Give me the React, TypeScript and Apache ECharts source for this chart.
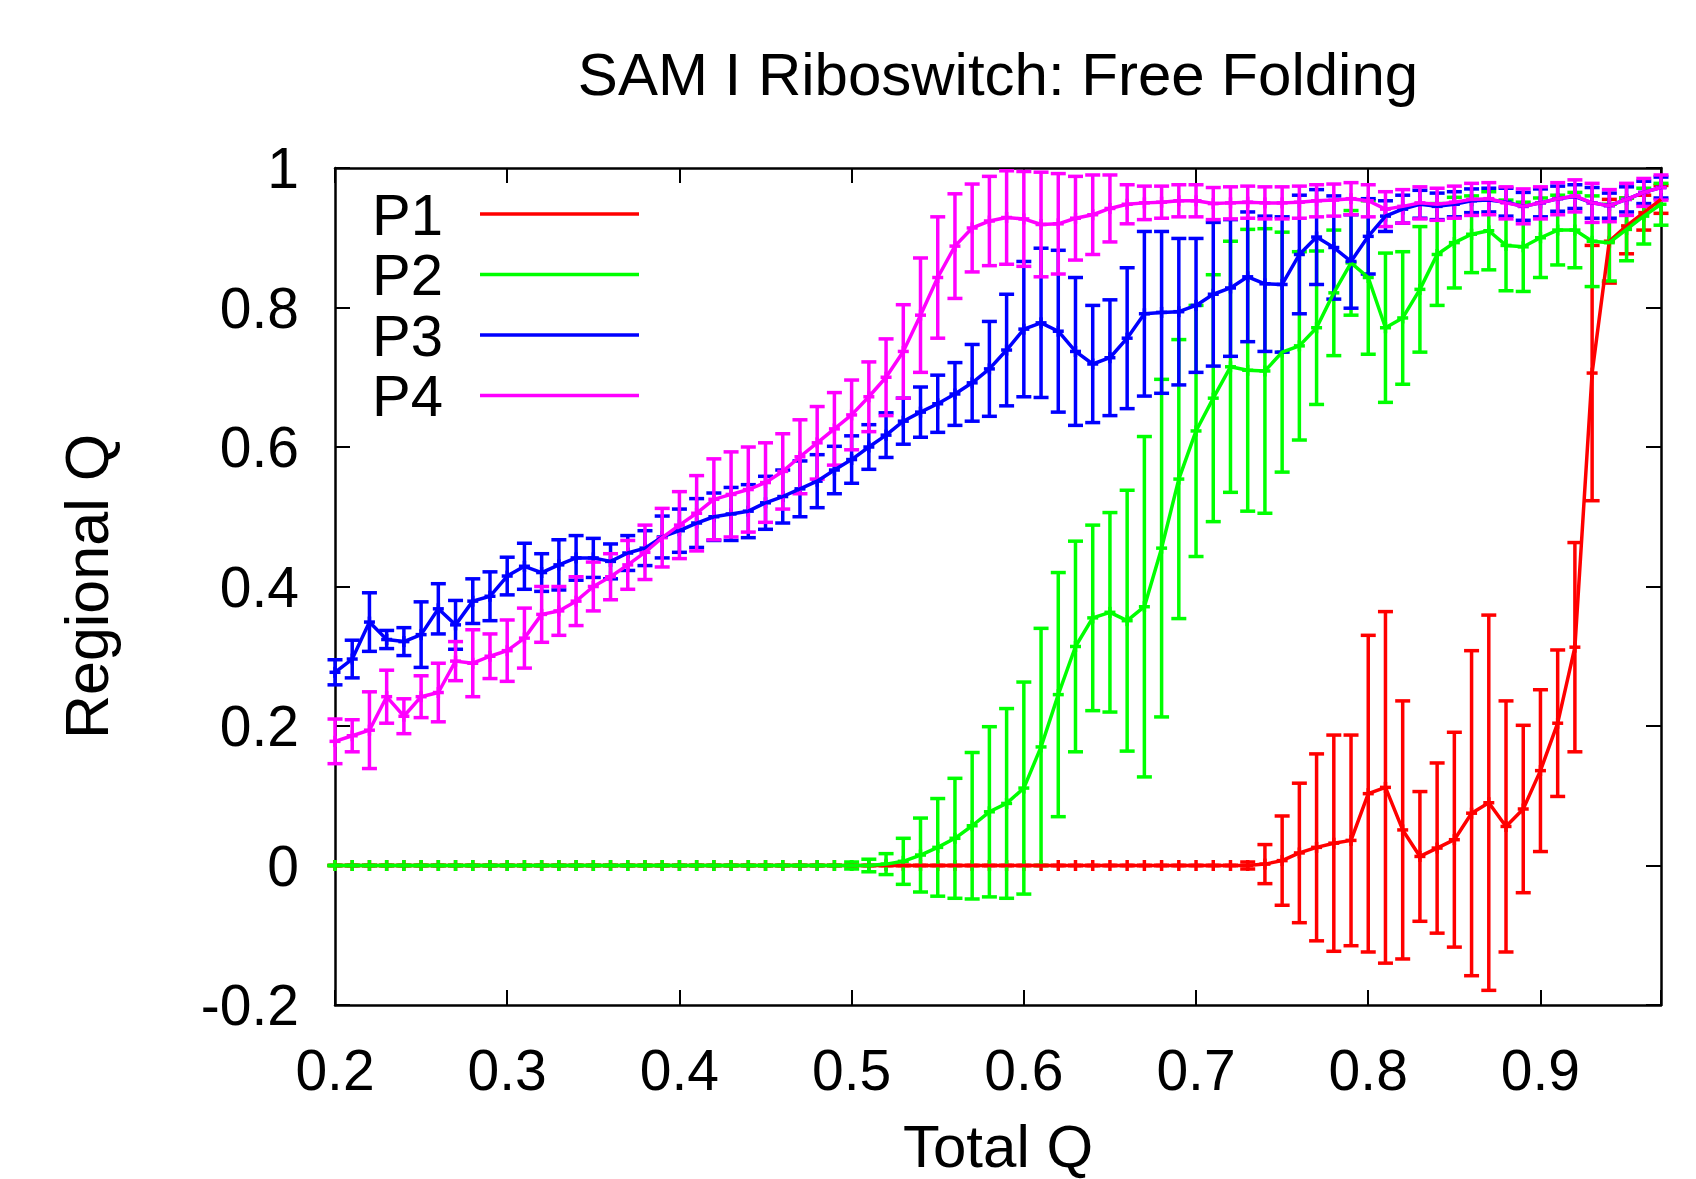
import React, { useEffect, useRef } from "react";
import * as echarts from "echarts";

const totalQ = [
  0.20, 0.21, 0.22, 0.23, 0.24, 0.25, 0.26, 0.27, 0.28, 0.29,
  0.30, 0.31, 0.32, 0.33, 0.34, 0.35, 0.36, 0.37, 0.38, 0.39,
  0.40, 0.41, 0.42, 0.43, 0.44, 0.45, 0.46, 0.47, 0.48, 0.49,
  0.50, 0.51, 0.52, 0.53, 0.54, 0.55, 0.56, 0.57, 0.58, 0.59,
  0.60, 0.61, 0.62, 0.63, 0.64, 0.65, 0.66, 0.67, 0.68, 0.69,
  0.70, 0.71, 0.72, 0.73, 0.74, 0.75, 0.76, 0.77, 0.78, 0.79,
  0.80, 0.81, 0.82, 0.83, 0.84, 0.85, 0.86, 0.87, 0.88, 0.89,
  0.90, 0.91, 0.92, 0.93, 0.94, 0.95, 0.96, 0.97,
];

const p1 = [
  0, 0, 0, 0, 0, 0, 0, 0, 0, 0,
  0, 0, 0, 0, 0, 0, 0, 0, 0, 0,
  0, 0, 0, 0, 0, 0, 0, 0, 0, 0,
  0, 0, 0, 0, 0, 0, 0, 0, 0, 0,
  0, 0, 0, 0, 0, 0, 0, 0, 0, 0,
  0, 0, 0, 0.000, 0.002, 0.007, 0.018, 0.026, 0.032, 0.036,
  0.103, 0.112, 0.051, 0.013, 0.025, 0.037, 0.075, 0.090, 0.056, 0.081,
  0.136, 0.204, 0.313, 0.706, 0.895, 0.917, 0.936, 0.955,
];
const p1Err = [
  0, 0, 0, 0, 0, 0, 0, 0, 0, 0,
  0, 0, 0, 0, 0, 0, 0, 0, 0, 0,
  0, 0, 0, 0, 0, 0, 0, 0, 0, 0,
  0, 0, 0, 0, 0, 0, 0, 0, 0, 0,
  0, 0, 0, 0, 0, 0, 0, 0, 0, 0,
  0, 0, 0, 0.005, 0.028, 0.064, 0.100, 0.134, 0.155, 0.151,
  0.227, 0.252, 0.185, 0.093, 0.122, 0.154, 0.233, 0.269, 0.180, 0.120,
  0.116, 0.105, 0.150, 0.183, 0.060, 0.040, 0.025, 0.020,
];

const p2 = [
  0, 0, 0, 0, 0, 0, 0, 0, 0, 0,
  0, 0, 0, 0, 0, 0, 0, 0, 0, 0,
  0, 0, 0, 0, 0, 0, 0, 0, 0, 0,
  0, 0.000, 0.002, 0.006, 0.015, 0.026, 0.039, 0.057, 0.077, 0.089,
  0.111, 0.170, 0.245, 0.314, 0.355, 0.363, 0.351, 0.371, 0.455, 0.554,
  0.623, 0.670, 0.715, 0.710, 0.709, 0.736, 0.745, 0.771, 0.821, 0.864,
  0.843, 0.771, 0.785, 0.826, 0.876, 0.893, 0.905, 0.910, 0.889, 0.887,
  0.900, 0.911, 0.911, 0.895, 0.893, 0.912, 0.931, 0.948,
];
const p2Err = [
  0, 0, 0, 0, 0, 0, 0, 0, 0, 0,
  0, 0, 0, 0, 0, 0, 0, 0, 0, 0,
  0, 0, 0, 0, 0, 0, 0, 0, 0, 0,
  0.005, 0.009, 0.015, 0.033, 0.053, 0.070, 0.086, 0.105, 0.122, 0.136,
  0.152, 0.170, 0.175, 0.151, 0.133, 0.143, 0.187, 0.244, 0.242, 0.200,
  0.180, 0.177, 0.180, 0.202, 0.204, 0.172, 0.135, 0.110, 0.090, 0.075,
  0.110, 0.107, 0.095, 0.090, 0.073, 0.065, 0.055, 0.056, 0.065, 0.064,
  0.057, 0.050, 0.054, 0.065, 0.055, 0.045, 0.040, 0.030,
];

const p3 = [
  0.277, 0.296, 0.349, 0.324, 0.321, 0.331, 0.368, 0.345, 0.379, 0.386,
  0.415, 0.429, 0.420, 0.431, 0.441, 0.441, 0.436, 0.448, 0.455, 0.471,
  0.480, 0.491, 0.500, 0.504, 0.508, 0.520, 0.529, 0.540, 0.551, 0.567,
  0.582, 0.600, 0.617, 0.637, 0.650, 0.662, 0.676, 0.692, 0.712, 0.739,
  0.769, 0.778, 0.766, 0.737, 0.719, 0.728, 0.756, 0.791, 0.793, 0.794,
  0.803, 0.819, 0.828, 0.844, 0.834, 0.833, 0.876, 0.901, 0.886, 0.866,
  0.902, 0.931, 0.941, 0.948, 0.945, 0.948, 0.953, 0.954, 0.951, 0.945,
  0.950, 0.956, 0.959, 0.950, 0.946, 0.955, 0.965, 0.972,
];
const p3Err = [
  0.018, 0.027, 0.042, 0.013, 0.020, 0.047, 0.036, 0.035, 0.032, 0.035,
  0.027, 0.033, 0.027, 0.036, 0.032, 0.028, 0.025, 0.025, 0.025, 0.030,
  0.031, 0.035, 0.034, 0.038, 0.038, 0.038, 0.038, 0.040, 0.038, 0.034,
  0.034, 0.032, 0.032, 0.033, 0.036, 0.041, 0.045, 0.055, 0.068, 0.080,
  0.097, 0.107, 0.116, 0.106, 0.084, 0.083, 0.101, 0.118, 0.116, 0.105,
  0.096, 0.103, 0.098, 0.093, 0.097, 0.097, 0.085, 0.068, 0.074, 0.067,
  0.054, 0.022, 0.020, 0.020, 0.019, 0.018, 0.017, 0.017, 0.020, 0.020,
  0.020, 0.018, 0.017, 0.022, 0.018, 0.018, 0.016, 0.015,
];

const p4 = [
  0.178, 0.186, 0.194, 0.242, 0.214, 0.242, 0.248, 0.293, 0.290, 0.300,
  0.308, 0.326, 0.360, 0.365, 0.379, 0.400, 0.414, 0.431, 0.449, 0.470,
  0.488, 0.505, 0.525, 0.532, 0.539, 0.549, 0.565, 0.586, 0.606, 0.626,
  0.646, 0.672, 0.700, 0.737, 0.789, 0.843, 0.888, 0.914, 0.924, 0.929,
  0.927, 0.919, 0.920, 0.928, 0.933, 0.942, 0.948, 0.950, 0.951, 0.953,
  0.953, 0.949, 0.950, 0.951, 0.950, 0.950, 0.951, 0.953, 0.954, 0.956,
  0.953, 0.941, 0.945, 0.950, 0.948, 0.951, 0.955, 0.956, 0.950, 0.945,
  0.950, 0.956, 0.960, 0.950, 0.946, 0.955, 0.965, 0.972,
];
const p4Err = [
  0.032, 0.023, 0.055, 0.038, 0.025, 0.030, 0.042, 0.028, 0.048, 0.032,
  0.044, 0.043, 0.040, 0.035, 0.035, 0.035, 0.033, 0.035, 0.039, 0.042,
  0.048, 0.054, 0.058, 0.061, 0.061, 0.057, 0.054, 0.053, 0.052, 0.052,
  0.050, 0.050, 0.055, 0.067, 0.082, 0.087, 0.075, 0.063, 0.064, 0.067,
  0.068, 0.075, 0.072, 0.060, 0.057, 0.048, 0.028, 0.024, 0.023, 0.023,
  0.023, 0.023, 0.023, 0.023, 0.023, 0.023, 0.023, 0.023, 0.023, 0.023,
  0.023, 0.025, 0.024, 0.023, 0.023, 0.023, 0.023, 0.023, 0.023, 0.025,
  0.023, 0.023, 0.023, 0.028, 0.023, 0.023, 0.020, 0.018,
];

const seriesNames = ["P1", "P2", "P3", "P4"];
const seriesColors = ["#ff0000", "#00ff00", "#0000ff", "#ff00ff"];
const seriesValues = [p1, p2, p3, p4];
const seriesErrors = [p1Err, p2Err, p3Err, p4Err];

const xTickLabels = ["0.2", "0.3", "0.4", "0.5", "0.6", "0.7", "0.8", "0.9"];

const FONT = "'Liberation Sans', Arial, Helvetica, sans-serif";

export default function App() {
  const ref = useRef<HTMLDivElement>(null);

  useEffect(() => {
    if (!ref.current) return;
    const chart = echarts.init(ref.current, null, { renderer: "svg" });

    const series: any[] = [];
    seriesNames.forEach((name, i) => {
      const color = seriesColors[i];
      const vals = seriesValues[i];
      const errs = seriesErrors[i];
      series.push({
        type: "custom",
        name,
        data: totalQ.map((q, k) => [q, vals[k], errs[k]]),
        dimensions: ["x", "y", "err"],
        encode: { x: 0, y: 1 },
        clip: false,
        renderItem: (params: any, api: any) => {
          const x = api.value(0);
          const y = api.value(1);
          const e = api.value(2);
          const c = api.coord([x, y]);
          const top = api.coord([x, y + e]);
          const bot = api.coord([x, y - e]);
          const hw = 7.5;
          const m = 5.5;
          const style = { stroke: color, lineWidth: 3.5 };
          return {
            type: "group",
            children: [
              { type: "line", shape: { x1: c[0], y1: top[1], x2: c[0], y2: bot[1] }, style },
              { type: "line", shape: { x1: c[0] - hw, y1: top[1], x2: c[0] + hw, y2: top[1] }, style },
              { type: "line", shape: { x1: c[0] - hw, y1: bot[1], x2: c[0] + hw, y2: bot[1] }, style },
              { type: "line", shape: { x1: c[0] - m, y1: c[1], x2: c[0] + m, y2: c[1] }, style },
              { type: "line", shape: { x1: c[0], y1: c[1] - m, x2: c[0], y2: c[1] + m }, style },
            ],
          };
        },
      });
      series.push({
        type: "line",
        name,
        data: totalQ.map((q, k) => [q, vals[k]]),
        symbol: "none",
        lineStyle: { color, width: 3.5 },
        itemStyle: { color },
      });
    });

    const legendGraphics: any[] = [];
    seriesNames.forEach((name, i) => {
      const y = 214 + i * 60.5;
      legendGraphics.push({
        type: "text",
        x: 372,
        y,
        style: {
          text: name,
          font: `58px ${FONT}`,
          fill: "#000",
          textAlign: "left",
          textVerticalAlign: "middle",
        },
      });
      legendGraphics.push({
        type: "line",
        shape: { x1: 480, y1: y, x2: 639, y2: y },
        style: { stroke: seriesColors[i], lineWidth: 3.5 },
      });
    });

    const tickStyle = { show: true, inside: true, length: 15, lineStyle: { color: "#000", width: 2 } };
    const lineStyle = { show: true, onZero: false, lineStyle: { color: "#000", width: 2.5 } };

    chart.setOption({
      animation: false,
      backgroundColor: "#fff",
      title: {
        text: "SAM I Riboswitch: Free Folding",
        left: 998,
        top: 44,
        padding: 0,
        textAlign: "center",
        textStyle: { fontFamily: FONT, fontSize: 60, fontWeight: "normal", color: "#000" },
      },
      grid: { left: 335, top: 168, right: 35, bottom: 174, outerBoundsMode: "none", containLabel: false },
      xAxis: [
        {
          type: "value",
          min: 0.2,
          max: 0.97,
          interval: 0.1,
          position: "bottom",
          name: "Total Q",
          nameLocation: "middle",
          nameGap: 111,
          nameTextStyle: { fontFamily: FONT, fontSize: 60, color: "#000" },
          axisLine: lineStyle,
          axisTick: tickStyle,
          splitLine: { show: false },
          axisLabel: {
            fontFamily: FONT,
            fontSize: 57,
            color: "#000",
            margin: 36,
            formatter: (v: number) => {
              const s = v.toFixed(1);
              return xTickLabels.indexOf(s) >= 0 ? s : "";
            },
          },
        },
        {
          type: "value",
          min: 0.2,
          max: 0.97,
          interval: 0.1,
          position: "top",
          axisLine: lineStyle,
          axisTick: tickStyle,
          splitLine: { show: false },
          axisLabel: { show: false },
        },
      ],
      yAxis: [
        {
          type: "value",
          min: -0.2,
          max: 1,
          interval: 0.2,
          position: "left",
          name: "Regional Q",
          nameLocation: "middle",
          nameRotate: 90,
          nameGap: 218,
          nameTextStyle: { fontFamily: FONT, fontSize: 61, color: "#000" },
          axisLine: lineStyle,
          axisTick: tickStyle,
          splitLine: { show: false },
          axisLabel: {
            fontFamily: FONT,
            fontSize: 57,
            color: "#000",
            margin: 36,
            formatter: (v: number) => String(Number(v.toFixed(1))),
          },
        },
        {
          type: "value",
          min: -0.2,
          max: 1,
          interval: 0.2,
          position: "right",
          axisLine: lineStyle,
          axisTick: tickStyle,
          splitLine: { show: false },
          axisLabel: { show: false },
        },
      ],
      graphic: legendGraphics,
      series,
    });

    return () => {
      chart.dispose();
    };
  }, []);

  return (
    <div
      ref={ref}
      style={{ position: "absolute", left: 0, top: 0, width: 1696, height: 1179 }}
    />
  );
}
